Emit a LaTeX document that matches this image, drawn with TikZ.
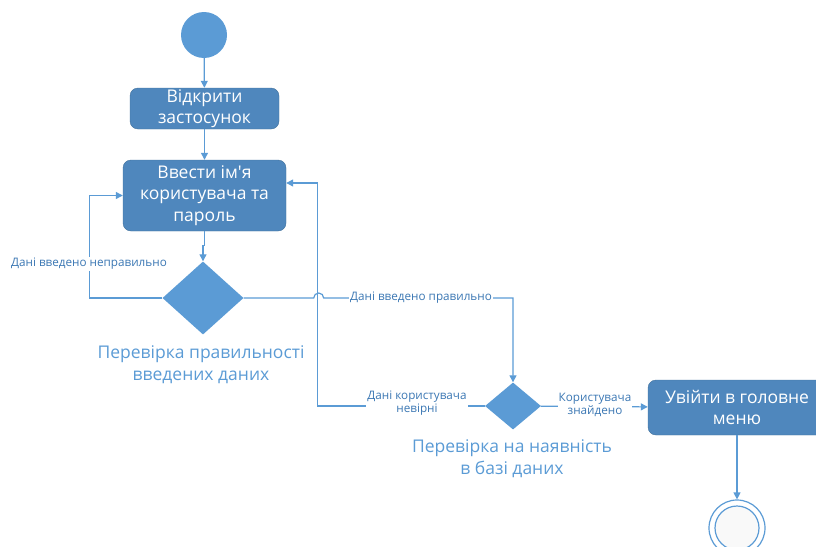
\documentclass[tikz,border=0pt]{standalone}
\usepackage{fontspec}
\setmainfont{Open Sans}[Ligatures=TeXOff]
\usetikzlibrary{arrows.meta, shapes.geometric, positioning}

\definecolor{boxblue}{HTML}{4F87BD}
\definecolor{boxedge}{HTML}{41719C}
\definecolor{lightblue}{HTML}{5B9BD5}
\definecolor{labelblue}{HTML}{3C78B4}

\begin{document}
\begin{tikzpicture}[x=1pt, y=1pt,
  action/.style={draw=boxedge, fill=boxblue, rounded corners=8pt, text=white,
    align=center, inner sep=0pt, font=\fontsize{17.5}{21.5}\selectfont},
  decision/.style={diamond, fill=lightblue, inner sep=0pt},
  flow/.style={draw=lightblue, line width=1.2pt, -{Triangle[width=7pt,length=7pt]}},
  guard/.style={fill=white, text=labelblue, align=center, inner sep=1pt,
    font=\fontsize{11.7}{13}\selectfont},
  caption/.style={text=lightblue, align=center, font=\fontsize{17.5}{22}\selectfont}]

  \clip (0,0) rectangle (816,-546);

  \node[circle, fill=lightblue, minimum size=46pt, inner sep=0pt] (start) at (204,-35) {};
  \node[action, minimum width=149pt, minimum height=41pt] (open) at (204.5,-108.5) {Відкрити\\застосунок};
  \node[action, minimum width=163pt, minimum height=71pt] (login) at (204.5,-195.5) {Ввести ім'я\\користувача та\\пароль};
  \node[decision, minimum width=81pt, minimum height=73pt] (check) at (203,-298) {};
  \node[caption] (checkcap) at (201,-365) {Перевірка правильності\\введених даних};
  \node[decision, minimum width=56pt, minimum height=47pt] (search) at (513,-406) {};
  \node[caption] (searchcap) at (512,-459) {Перевірка на наявність\\в базі даних};
  \node[action, minimum width=178pt, minimum height=55pt] (menu) at (737,-407.5) {Увійти в головне\\меню};
  % кінцевий стан
  \node[circle, draw=lightblue, line width=1.2pt, fill=white, minimum size=56pt, inner sep=0pt] (stop) at (737,-528) {};
  \node[circle, draw=lightblue, line width=1.2pt, fill=gray!5, minimum size=44pt, inner sep=0pt] (stopin) at (stop) {};

  \draw[flow] (start) -- (open);
  \draw[flow] (open) -- (login);
  \draw[flow] (login.south) -- ++(0,-14) -| (check.north);

  % повернення на введення
  \draw[flow] (check.west) -- ++(-73,0) |- (login.west);
  \draw[flow] (check.east) -- ++(70,0) arc[start angle=180, end angle=0, radius=5] -| (search.north);
  \draw[flow] (search.west) -- ++(-167,0) |- ([yshift=12.5pt]login.east);
  \draw[flow] (search) -- (menu);
  \draw[flow] (menu) -- (stop);

  \node[guard] (wrong) at (89,-264) {Дані введено неправильно};
  \node[guard] (right) at (421,-298) {Дані введено правильно};
  \node[guard] (notfound) at (417,-403) {Дані користувача\\невірні};
  \node[guard] (found) at (595,-405) {Користувача\\знайдено};
\end{tikzpicture}
\end{document}
